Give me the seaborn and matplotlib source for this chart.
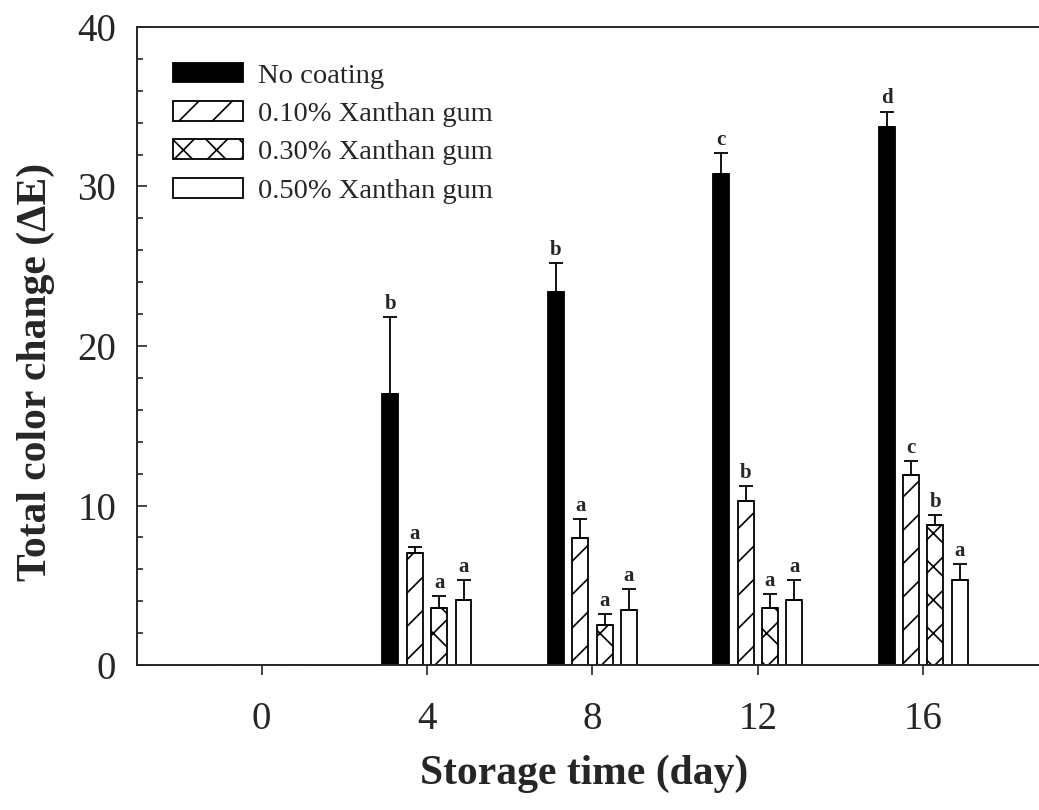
import numpy as np
import pandas as pd
import matplotlib
matplotlib.use("Agg")
import matplotlib.pyplot as plt
from matplotlib.ticker import MultipleLocator
import seaborn as sns

days = ["0", "4", "8", "12", "16"]
treatments = ["No coating", "0.10% Xanthan gum", "0.30% Xanthan gum", "0.50% Xanthan gum"]
no_coating = [0, 17.0, 23.4, 30.8, 33.7]
no_coating_err = [0, 4.8, 1.8, 1.3, 1.0]
xg010 = [0, 7.0, 7.95, 10.3, 11.9]
xg010_err = [0, 0.4, 1.2, 0.9, 0.9]
xg030 = [0, 3.6, 2.5, 3.6, 8.8]
xg030_err = [0, 0.7, 0.7, 0.85, 0.6]
xg050 = [0, 4.1, 3.45, 4.1, 5.3]
xg050_err = [0, 1.2, 1.3, 1.2, 1.05]
letters_no = ["", "b", "b", "c", "d"]
letters_010 = ["", "a", "a", "b", "c"]
letters_030 = ["", "a", "a", "a", "b"]
letters_050 = ["", "a", "a", "a", "a"]

values = [no_coating, xg010, xg030, xg050]
errors = [no_coating_err, xg010_err, xg030_err, xg050_err]
letters = [letters_no, letters_010, letters_030, letters_050]

rows = []
for t, vals in zip(treatments, values):
    for d, v in zip(days, vals):
        rows.append({"day": d, "treatment": t, "value": v})
df = pd.DataFrame(rows)

sns.set_style("ticks")
plt.rcParams["font.family"] = ["Liberation Serif", "DejaVu Serif"]
plt.rcParams["hatch.linewidth"] = 1.2
plt.rcParams["hatch.color"] = "black"

fig = plt.figure(figsize=(10.39, 8.10), dpi=100)
ax = fig.add_axes([137 / 1039, 145 / 810, 1 - 137 / 1039, 638 / 810])

palette = {"No coating": "black", "0.10% Xanthan gum": "white",
           "0.30% Xanthan gum": "white", "0.50% Xanthan gum": "white"}
sns.barplot(data=df, x="day", y="value", hue="treatment", order=days,
            hue_order=treatments, palette=palette, width=0.59, gap=0.35,
            errorbar=None, edgecolor="black", linewidth=1.3, ax=ax,
            saturation=1)

hatches = [None, "/", "x", None]
for cont, h, errs, labs in zip(ax.containers, hatches, errors, letters):
    for bar, e, lab in zip(cont, errs, labs):
        if h:
            bar.set_hatch(h)
        h_val = bar.get_height()
        if h_val <= 0:
            continue
        xc = bar.get_x() + bar.get_width() / 2
        ax.errorbar(xc, h_val, yerr=[[0], [e]], fmt="none", ecolor="black",
                    elinewidth=1.3, capsize=5, capthick=1.3, zorder=3)
        ax.text(xc, h_val + e + 0.2, lab, ha="center", va="bottom",
                fontsize=15, fontweight="bold")

ax.set_xlim(-0.753, 4.70)
ax.set_ylim(0, 40)
ax.yaxis.set_major_locator(MultipleLocator(10))
ax.yaxis.set_minor_locator(MultipleLocator(2))
ax.tick_params(axis="y", which="major", direction="in", length=7, width=1.2,
               labelsize=28, pad=15)
ax.tick_params(axis="y", which="minor", direction="in", length=4, width=1.2)
ax.tick_params(axis="x", which="major", direction="out", length=7, width=1.2,
               labelsize=28, pad=19)
for s in ["left", "bottom", "top"]:
    ax.spines[s].set_linewidth(1.4)
ax.spines["right"].set_visible(False)

ax.set_xlabel("Storage time (day)", fontsize=30, fontweight="bold")
ax.set_ylabel("Total color change (\u0394E)", fontsize=30, fontweight="bold")
ax.xaxis.set_label_coords(0.496, -0.140)
ax.yaxis.set_label_coords(-0.091, 0.46)

leg = ax.legend(loc="upper left", bbox_to_anchor=(0.040, 0.944), frameon=False,
                fontsize=20.5, handlelength=2.45, handleheight=0.69,
                handletextpad=0.52, labelspacing=0.44, borderpad=0,
                borderaxespad=0)
for patch, h in zip(leg.get_patches(), hatches):
    if h:
        patch.set_hatch(h)

fig.savefig("out.png", dpi=100)
